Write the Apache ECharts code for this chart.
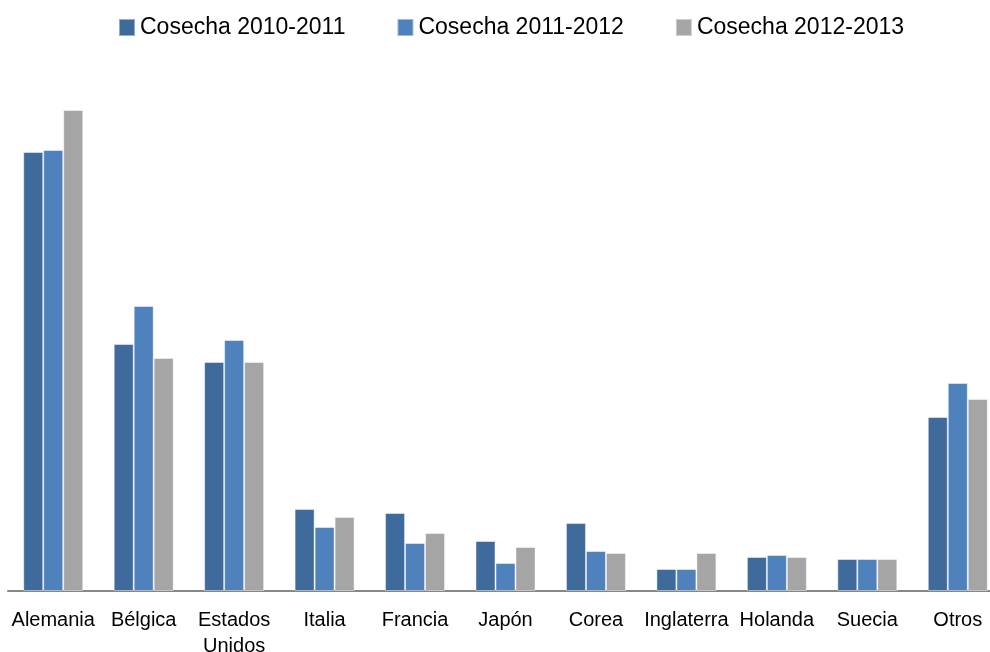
<!DOCTYPE html>
<html>
<head>
<meta charset="utf-8">
<script src="https://cdn.jsdelivr.net/npm/echarts@6/dist/echarts.min.js"></script>
<style>
  html, body { margin: 0; padding: 0; background: #fff; }
  #chart { width: 990px; height: 652px; }
</style>
</head>
<body>
<div id="chart"></div>
<script>
// categorias (paises de destino)
const paises = ["Alemania", "Bélgica", "Estados\nUnidos", "Italia", "Francia", "Japón",
  "Corea", "Inglaterra", "Holanda", "Suecia", "Otros"];
const nombresSeries = ["Cosecha 2010-2011", "Cosecha 2011-2012", "Cosecha 2012-2013"];
// valores (sin escala visible)
const cosecha1011 = [439, 247, 229, 82, 78, 50, 68, 22, 34, 32, 174];
const cosecha1112 = [441, 285, 251, 64, 48, 28, 40, 22, 36, 32, 208];
const cosecha1213 = [481, 233, 229, 74, 58, 44, 38, 38, 34, 32, 192];
const colores = ["#3F6A9C", "#4F81BD", "#A5A5A5"];

const chart = echarts.init(document.getElementById("chart"));
const datos = [cosecha1011, cosecha1112, cosecha1213];

const options = {
  animation: false,
  legend: {
    left: 113,
    top: 11,
    itemWidth: 16,
    itemHeight: 17,
    itemGap: 51,
    icon: "rect",
    textStyle: { fontFamily: "Liberation Sans", fontSize: 23, color: "#000" },
    data: nombresSeries,
  },
  grid: { left: 8, right: -13, top: 100, bottom: 61, outerBoundsMode: "none", containLabel: false },
  xAxis: {
    type: "category",
    data: paises,
    axisLine: { lineStyle: { color: "#878787", width: 2 } },
    axisTick: { show: false },
    axisLabel: {
      interval: 0,
      margin: 16,
      color: "#000",
      fontFamily: "Liberation Sans",
      fontSize: 20,
      lineHeight: 26,
    },
  },
  yAxis: {
    type: "value",
    min: 0,
    max: 491,
    show: false,
  },
  series: [],
};

nombresSeries.map((nombre, i) => {
  options.series.push({
    name: nombre,
    type: "bar",
    data: datos[i],
    barGap: "0%",
    barCategoryGap: "33.7%",
    itemStyle: { color: colores[i], borderColor: "rgba(255,255,255,0.45)", borderWidth: 1 },
  });
});

chart.setOption(options);
</script>
</body>
</html>
